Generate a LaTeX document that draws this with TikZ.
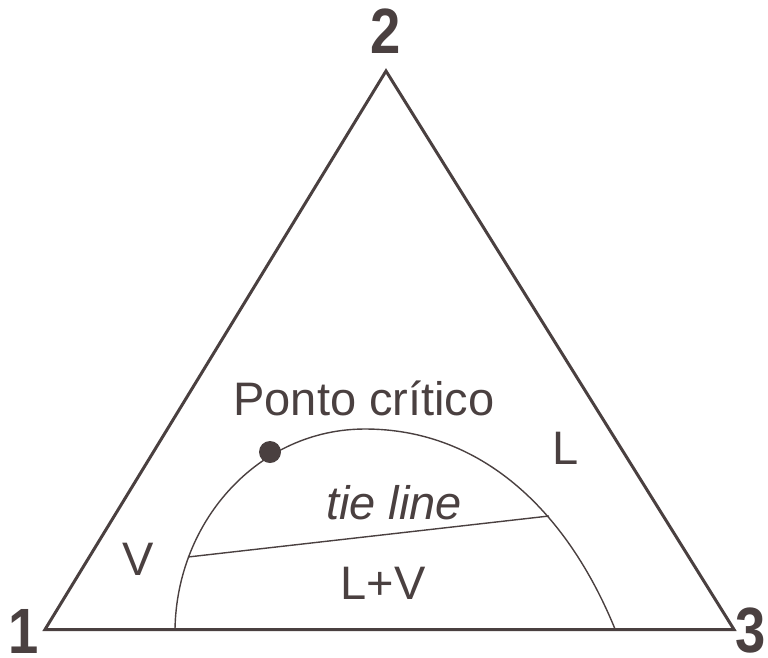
\documentclass[tikz,border=0pt]{standalone}
\usepackage{fontspec}
\setmainfont{Liberation Sans}
\usetikzlibrary{positioning}
\definecolor{ink}{RGB}{74,64,64}

\begin{document}
\begin{tikzpicture}[
        x=1pt, y=-1pt,
        corner/.style={font=\fontsize{64}{64}\selectfont\bfseries, text=ink, inner sep=0pt, anchor=base},
        region/.style={font=\fontsize{47}{47}\selectfont, text=ink, inner sep=0pt, anchor=base},
        side/.style={draw=ink, line width=3pt, line join=miter},
        boundary/.style={draw=ink, line width=1.4pt}
    ]
        \useasboundingbox (0,0) rectangle (768,657);

        % Vertices of the triangle
        \coordinate (v1) at (45,629.5);
        \coordinate (v2) at (386,71);
        \coordinate (v3) at (734,629.5);
        \draw[side] (v1) -- (v2) -- (v3) -- cycle;

        % Corner labels
        \node[corner] (n1) at (24,653) {\scalebox{0.85}[1]{1}};
        \node[corner] (n2) at (386,53) {\scalebox{0.85}[1]{2}};
        \node[corner] (n3) at (751,652) {\scalebox{0.85}[1]{3}};

        % Two-phase boundary
        \coordinate (b1) at (175,629);
        \coordinate (top) at (365,429);
        \coordinate (b2) at (615,629);
        \draw[boundary] (b1) .. controls (177,519) and (260,429) .. (top)
            .. controls (480,429) and (566,509) .. (b2);

        % Tie line and critical point
        \coordinate (tl) at (188,557);
        \coordinate (tr) at (549,516);
        \coordinate (pc) at (270,452);
        \draw[boundary] (tl) -- (tr);
        \fill[ink] (pc) circle (11);

        % Region labels
        \node[region] (crit) at (364,415) {Ponto crítico};
        \node[region] (liq) at (566,464) {L};
        \node[region] (vap) at (138,575) {V};
        \node[region, font=\fontsize{47}{47}\selectfont\itshape] (tie) at (394,519) {tie line};
        \node[region] (lv) at (383,599) {L+V};
    \end{tikzpicture}
\end{document}
